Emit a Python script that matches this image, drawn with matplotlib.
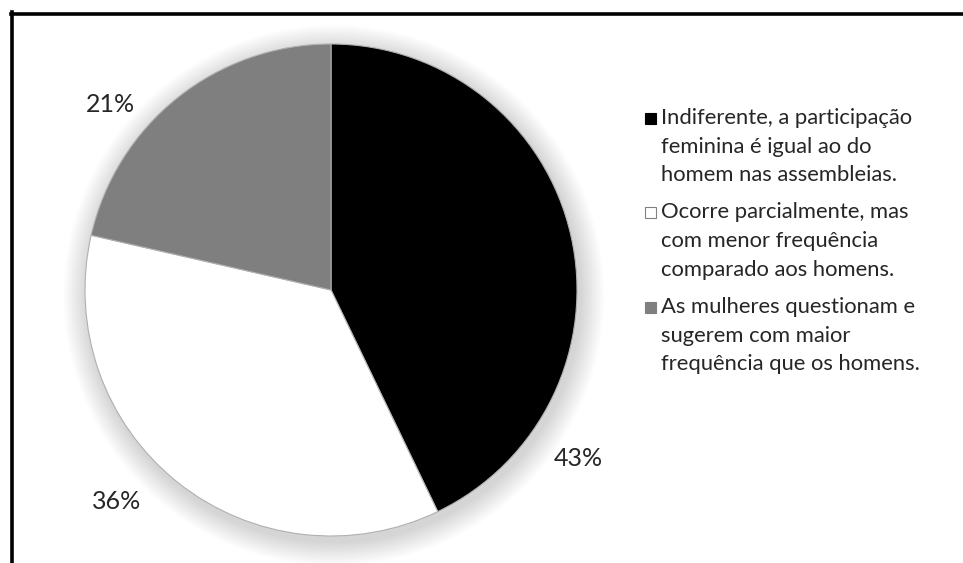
import numpy as np
import matplotlib
matplotlib.use('Agg')
import matplotlib.pyplot as plt
from matplotlib.patches import Circle, Rectangle
from matplotlib.lines import Line2D

plt.rcParams['font.family'] = ['Lato', 'DejaVu Sans']

# data (answer counts)
counts = [12, 10, 6]
pct_labels = ['43%', '36%', '21%']
colors = ['#000000', '#ffffff', '#7f7f7f']
legend_labels = [
    'Indiferente, a participação\nfeminina é igual ao do\nhomem nas assembleias.',
    'Ocorre parcialmente, mas\ncom menor frequência\ncomparado aos homens.',
    'As mulheres questionam e\nsugerem com maior\nfrequência que os homens.',
]
# label positions (relative to pie radius), Excel "best fit"
label_xy = [(1.004, -0.683), (-0.870, -0.858), (-0.898, 0.756)]

W, H = 963, 563
fig = plt.figure(figsize=(W / 100, H / 100), dpi=100)
fig.patch.set_facecolor('white')

# frame: top and left lines only
fig.add_artist(Line2D([11 / W, 1], [1 - 13.5 / H, 1 - 13.5 / H], color='black', lw=2.6))
fig.add_artist(Line2D([11.5 / W, 11.5 / W], [0, 1 - 12 / H], color='black', lw=2.6))

cx, cy, r = 331, 290, 246
ax = fig.add_axes([(cx - r) / W, (H - cy - r) / H, 2 * r / W, 2 * r / H])

# soft shadow
for k in range(14):
    rr = 1.0 + 0.007 * (k + 1)
    ax.add_patch(Circle((0.012, -0.022), rr, color='black', alpha=0.01,
                        lw=0, zorder=0, clip_on=False))

wedges, _ = ax.pie(counts, colors=colors, startangle=90, counterclock=False,
                   radius=1, wedgeprops=dict(edgecolor='#b0b0b0', linewidth=0.8))
for w_ in wedges:
    w_.set_zorder(2)
ax.set_xlim(-1, 1)
ax.set_ylim(-1, 1)
ax.set_aspect('equal')
ax.axis('off')

for (x, y), t in zip(label_xy, pct_labels):
    ax.text(x, y, t, ha='center', va='center', fontsize=18, color='#262626',
            clip_on=False)

# legend drawn by hand so the marker sits on the first line
lx, ty, line_h, gap = 661, 118, 28.7, 94.5
for i, (lab, c) in enumerate(zip(legend_labels, colors)):
    y0 = ty + i * gap
    fig.add_artist(Rectangle(((lx - 16) / W, 1 - (y0 + 5.5) / H), 11 / W, 11 / H,
                             facecolor=c, edgecolor='#808080' if c == '#ffffff' else c,
                             lw=0.8))
    for j, line in enumerate(lab.split('\n')):
        fig.text(lx / W, 1 - (y0 + j * line_h) / H, line, ha='left', va='center',
                 fontsize=15.8, color='#262626')

fig.savefig('out.png', dpi=100)
